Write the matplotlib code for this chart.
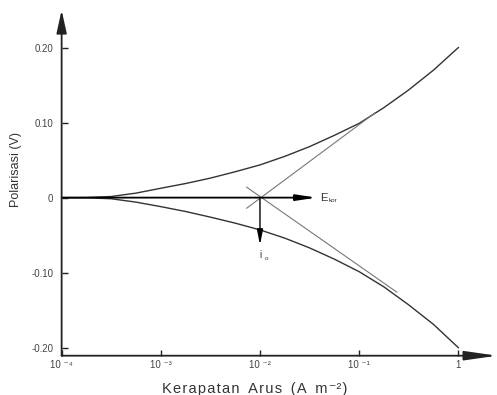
import matplotlib as mpl
from matplotlib import pyplot as plt, ticker as tkr

mpl.use('Agg')

plt.rcParams['font.family'] = ['Liberation Sans', 'DejaVu Sans']

# current density (log10 of A m-2) and polarisation (V)
log_i = [-4.0, -3.75, -3.5, -3.25, -3.0, -2.75, -2.5, -2.25, -2.0,
         -1.75, -1.5, -1.25, -1.0, -0.75, -0.5, -0.25, 0.0]
eta_anodic = [0.0, 0.0002, 0.0015, 0.006, 0.0125, 0.0188, 0.026, 0.0345,
              0.0436, 0.055, 0.068, 0.083, 0.099, 0.12, 0.1436, 0.17, 0.20]
eta_cathodic = [0.0, -0.0002, -0.0015, -0.006, -0.012, -0.0185, -0.026,
                -0.034, -0.043, -0.054, -0.067, -0.082, -0.0987, -0.119,
                -0.143, -0.169, -0.20]

# tafel extrapolation lines (log10 i, eta)
tafel_anodic_x = [-2.134, -0.84]
tafel_anodic_y = [-0.0141, 0.113]
tafel_cathodic_x = [-2.134, -0.62]
tafel_cathodic_y = [0.0139, -0.126]

# corrosion point
log_i_corr = -2.0
e_arrow_end = -1.428
i_arrow_end = -0.063

x_ticks = [-4, -3, -2, -1, 0]
x_tick_labels = ['10 \u207b\u2074', '10 \u207b\u00b3', '10 \u207b\u00b2',
                 '10 \u207b\u00b9', '1']
y_ticks = [-0.20, -0.10, 0.0, 0.10, 0.20]
y_tick_labels = ['-0.20', '-0.10', '0', '0.10', '0.20']

fig = plt.figure(figsize=(4.97, 3.95), dpi=100)
ax = fig.add_axes([0.124, 0.0995, 0.876, 0.875])

ax.set_xlim(-4, 0.39)
ax.set_ylim(-0.2107, 0.25)

curve_col = '#333333'
tafel_col = '#777777'

ax.plot(log_i, eta_anodic, color=curve_col, lw=1.0)
ax.plot(log_i, eta_cathodic, color=curve_col, lw=1.0)
ax.plot(tafel_anodic_x, tafel_anodic_y, color=tafel_col, lw=0.8)
ax.plot(tafel_cathodic_x, tafel_cathodic_y, color=tafel_col, lw=0.8)

# zero line with E_kor arrow
ax.annotate('', xy=(e_arrow_end, 0), xytext=(-4, 0),
            arrowprops=dict(arrowstyle='-|>,head_length=1.0,head_width=0.15',
                            mutation_scale=12, color='black', lw=1.3,
                            shrinkA=0, shrinkB=0))
ax.text(-1.395, 0, 'E', fontsize=8, color='#333333', va='center', ha='left')
ax.text(-1.31, -0.004, 'kor', fontsize=4.5, color='#333333', va='center',
        ha='left')

# i_o arrow
ax.annotate('', xy=(log_i_corr, i_arrow_end), xytext=(log_i_corr, 0),
            arrowprops=dict(arrowstyle='-|>,head_length=0.9,head_width=0.18',
                            mutation_scale=10, color='black', lw=1.0,
                            shrinkA=0, shrinkB=0))
ax.text(-2.0, -0.077, 'i', fontsize=7, color='#333333', va='center',
        ha='center')
ax.text(-1.95, -0.081, 'o', fontsize=4.5, color='#333333', va='center',
        ha='left')

# axes drawn as arrows
for s in ax.spines.values():
    s.set_visible(False)
ax.annotate('', xy=(1.0, 0), xytext=(0, 0), xycoords='axes fraction',
            textcoords='axes fraction',
            arrowprops=dict(arrowstyle='-|>,head_length=1.4,head_width=0.2',
                            mutation_scale=14, color='#222222', lw=1.3,
                            shrinkA=0, shrinkB=0))
ax.annotate('', xy=(0, 1.0), xytext=(0, 0), xycoords='axes fraction',
            textcoords='axes fraction',
            arrowprops=dict(arrowstyle='-|>,head_length=1.0,head_width=0.22',
                            mutation_scale=14, color='#222222', lw=1.3,
                            shrinkA=0, shrinkB=0))

ax.xaxis.set_major_locator(tkr.FixedLocator(x_ticks))
ax.xaxis.set_major_formatter(tkr.FixedFormatter(x_tick_labels))
ax.yaxis.set_major_locator(tkr.FixedLocator(y_ticks))
ax.yaxis.set_major_formatter(tkr.FixedFormatter(y_tick_labels))
ax.tick_params(axis='both', direction='in', length=4, width=1,
               color='#222222', labelcolor='#444444', labelsize=7)
ax.tick_params(axis='x', pad=3)
ax.tick_params(axis='y', pad=6)

xlab = 'K e r a p a t a n   A r u s   ( A   m \u207b\u00b2 )'
xlab = xlab.replace('   ', '\u2009\u2009\u2009').replace(' ', '\u200a')
ax.set_xlabel(xlab, fontsize=10.5, color='#333333')
ax.xaxis.set_label_coords(0.444, -0.075)
ax.set_ylabel('Polarisasi (V)', fontsize=9, color='#333333')
ax.yaxis.set_label_coords(-0.092, 0.54)

plt.savefig('out.png', dpi=100)
